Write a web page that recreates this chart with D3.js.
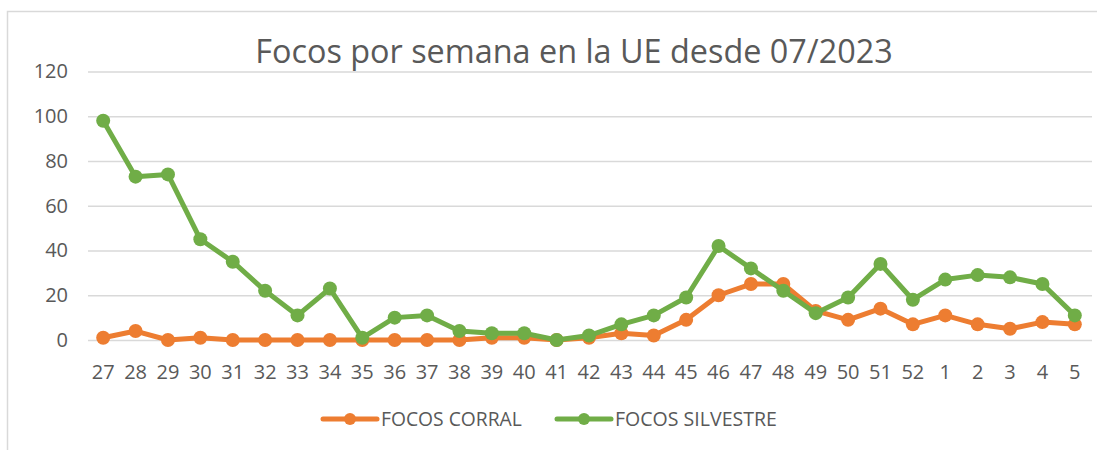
<!DOCTYPE html>
<html>
<head>
<meta charset="utf-8">
<script src="https://cdn.jsdelivr.net/npm/d3@7"></script>
<style>
  body { margin: 0; background: #fff; }
  text { font-family: "Open Sans", sans-serif; fill: #595959; }
</style>
</head>
<body>
<div id="graph"></div>
<script>
// data
const weeks = ["27","28","29","30","31","32","33","34","35","36","37","38","39","40","41","42","43","44","45","46","47","48","49","50","51","52","1","2","3","4","5"]
const corral = [1,4,0,1,0,0,0,0,0,0,0,0,1,1,0,1,3,2,9,20,25,25,13,9,14,7,11,7,5,8,7]
const silvestre = [98,73,74,45,35,22,11,23,1,10,11,4,3,3,0,2,7,11,19,42,32,22,12,19,34,18,27,29,28,25,11]
const yTicks = [0,20,40,60,80,100,120]
const seriesNames = ["FOCOS CORRAL", "FOCOS SILVESTRE"]
const colors = ["#ED7D31", "#70AD47"]

const W = 1097, H = 450
const plot = {left: 88, right: 1092, top: 71.5, bottom: 340}

const svg = d3.select("#graph")
  .append("svg")
  .attr("width", W)
  .attr("height", H)

// chart frame
svg.append("rect")
  .attr("x", 7.5).attr("y", 11.5)
  .attr("width", W).attr("height", H)
  .attr("fill", "none")
  .attr("stroke", "#d9d9d9")
  .attr("stroke-width", 1.5)

// scales
const x = d3.scaleBand()
  .domain(weeks)
  .range([plot.left - 1, plot.right - 1])

const y = d3.scaleLinear()
  .domain([0, 120])
  .range([plot.bottom, plot.top])

const cx = d => x(d) + x.bandwidth() / 2

// y axis + gridlines
const yAxis = svg.append("g")
  .attr("transform", `translate(${plot.left},0)`)
  .call(d3.axisLeft(y).tickValues(yTicks).tickSize(-(plot.right - plot.left)).tickPadding(20))
yAxis.select(".domain").remove()
yAxis.selectAll(".tick line").attr("stroke", "#d9d9d9").attr("stroke-width", 1.5)
yAxis.selectAll(".tick text").style("font-size", "20px").attr("fill", "#595959")

// x axis
const xAxis = svg.append("g")
  .attr("transform", `translate(0,${plot.bottom})`)
  .call(d3.axisBottom(x).tickSize(0).tickPadding(24))
xAxis.select(".domain").remove()
xAxis.selectAll(".tick text").style("font-size", "20px").attr("fill", "#595959")
  .attr("dy", 0).attr("y", 39)

// lines
const series = [corral, silvestre]
series.forEach((vals, i) => {
  const pts = weeks.map((w, j) => ({w: w, v: vals[j]}))
  const line = d3.line().x(d => cx(d.w)).y(d => y(d.v))
  svg.append("path")
    .datum(pts)
    .attr("d", line)
    .attr("fill", "none")
    .attr("stroke", colors[i])
    .attr("stroke-width", 5)
    .attr("stroke-linejoin", "round")
  svg.append("g").selectAll("circle")
    .data(pts)
    .join("circle")
    .attr("cx", d => cx(d.w))
    .attr("cy", d => y(d.v))
    .attr("r", 7)
    .attr("fill", colors[i])
})

// title
const title = svg.append("text")
  .attr("x", 574)
  .attr("y", 63)
  .attr("text-anchor", "middle")
  .style("font-size", "30px")
  .text("Focos por semana en la UE desde 07/2023")
const tw = title.node().getComputedTextLength()
title.style("font-size", (30 * 638 / tw) + "px")

// legend
const legendX = [323, 557]
const legendTextW = [141, 162]
seriesNames.forEach((name, i) => {
  const g = svg.append("g").attr("transform", `translate(${legendX[i]},419)`)
  g.append("line")
    .attr("x1", 0).attr("x2", 54)
    .attr("stroke", colors[i])
    .attr("stroke-width", 5)
    .attr("stroke-linecap", "round")
  g.append("circle").attr("cx", 27).attr("r", 6).attr("fill", colors[i])
  const t = g.append("text")
    .attr("x", 58)
    .attr("y", 7)
    .style("font-size", "20px")
    .text(name)
  const w = t.node().getComputedTextLength()
  t.style("font-size", (20 * legendTextW[i] / w) + "px")
})
</script>
</body>
</html>
